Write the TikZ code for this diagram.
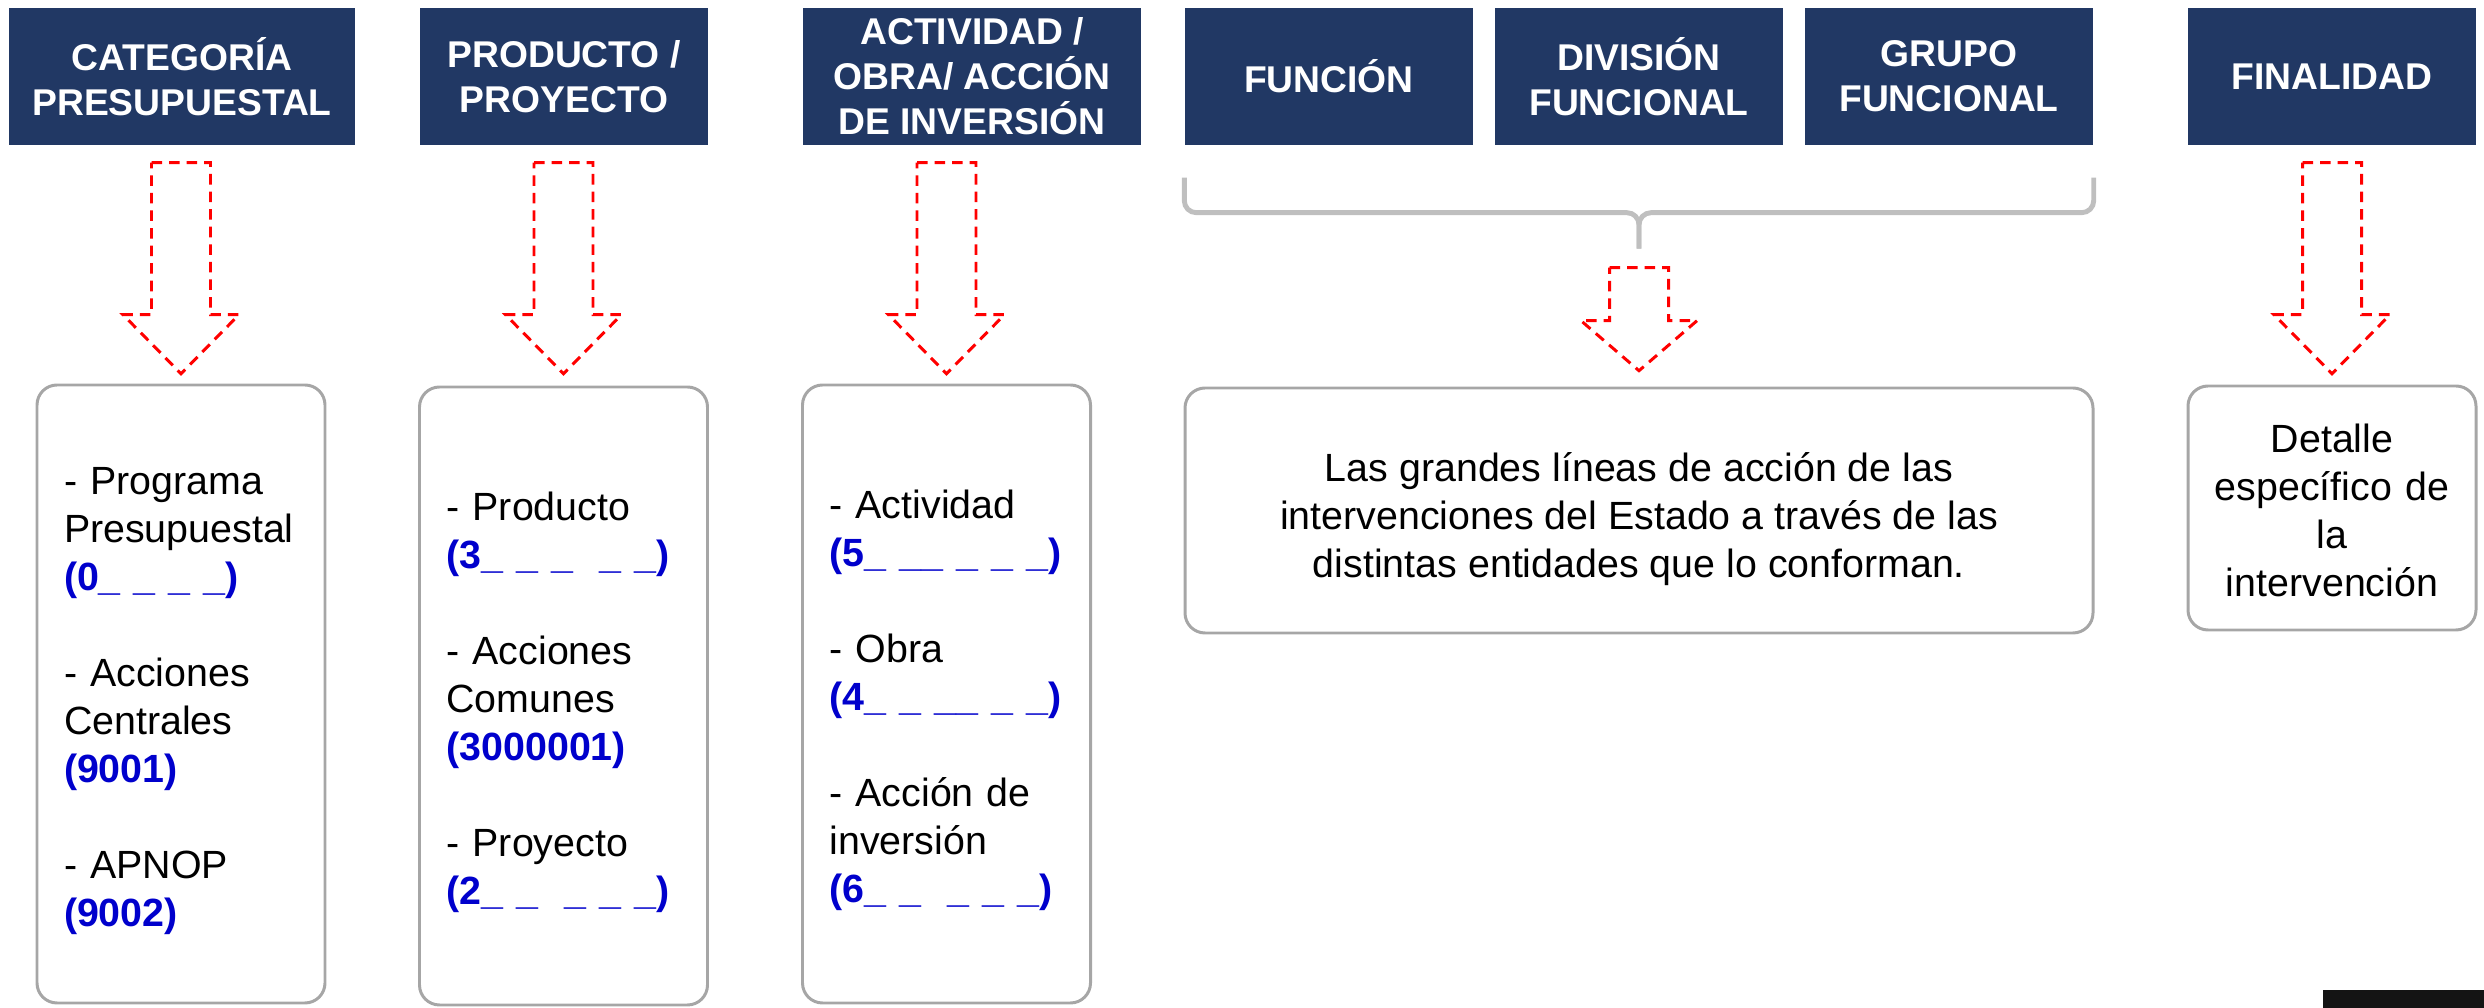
\documentclass[tikz,border=0pt]{standalone}
\usepackage{fontspec}
\setmainfont{Liberation Sans}
\usetikzlibrary{calc}

\definecolor{headnavy}{RGB}{33,56,100}
\definecolor{boxgray}{RGB}{166,166,166}
\definecolor{bracegray}{RGB}{191,191,191}
\definecolor{codeblue}{RGB}{0,0,204}

\hyphenpenalty=10000
\newcommand{\code}[1]{\textbf{\textcolor{codeblue}{#1}}}
\newcommand{\topgap}[1]{\rule{0pt}{#1}}

\tikzset{
	header/.style={fill=headnavy, text=white, font=\bfseries\fontsize{10.6}{12.8}\selectfont, align=center, minimum height=1.37cm, inner sep=0pt},
	listbox/.style={draw=boxgray, line width=0.85pt, rounded corners=0.2cm, minimum height=6.18cm, text width=2.34cm, inner xsep=0.27cm, align=left, font=\fontsize{11.2}{13.66}\selectfont},
	notebox/.style={draw=boxgray, line width=0.85pt, rounded corners=0.2cm, align=center, font=\fontsize{11.2}{13.66}\selectfont},
	redline/.style={draw=red, line width=0.85pt, dash pattern=on 3pt off 2pt},
	brace/.style={draw=bracegray, line width=1.4pt, rounded corners=0.12cm},
	pics/hollowarrow/.style 2 args={code={
		\draw[redline] (-0.295,0) -- (0.295,0) -- (0.295,-#1) -- (0.58,-#1) -- (0,-#2) -- (-0.58,-#1) -- (-0.295,-#1) -- cycle;
	}}
}

\begin{document}
\begin{tikzpicture}
	\useasboundingbox (0,0) rectangle (24.84,-10.08);

	% headers
	\node[header, minimum width=3.46cm] (h1) at (1.82,-0.765) {CATEGORÍA\\PRESUPUESTAL};
	\node[header, minimum width=2.88cm] (h2) at (5.64,-0.765) {PRODUCTO /\\PROYECTO};
	\node[header, minimum width=3.38cm] (h3) at (9.72,-0.765) {ACTIVIDAD /\\OBRA/ ACCIÓN\\DE INVERSIÓN};
	\node[header, minimum width=2.88cm] (h4) at (13.29,-0.765) {FUNCIÓN};
	\node[header, minimum width=2.88cm] (h5) at (16.39,-0.765) {DIVISIÓN\\FUNCIONAL};
	\node[header, minimum width=2.88cm] (h6) at (19.49,-0.765) {GRUPO\\FUNCIONAL};
	\node[header, minimum width=2.88cm] (h7) at (23.32,-0.765) {FINALIDAD};

	% boxes
	\node[listbox] (b1) at (1.81,-6.94) {\topgap{0.41cm}- Programa\\Presupuestal\\\code{(0\_ \_ \_ \_)}\\[13.66pt]- Acciones\\Centrales\\\code{(9001)}\\[13.66pt]- APNOP\\\code{(9002)}};
	\node[listbox] (b2) at (5.635,-6.96) {\topgap{0.41cm}- Producto\\\code{(3\_ \_ \_\ \ \_ \_)}\\[13.66pt]- Acciones\\Comunes\\\code{(3000001)}\\[13.66pt]- Proyecto\\\code{(2\_ \_\ \ \_ \_ \_)}};
	\node[listbox] (b3) at (9.465,-6.94) {\topgap{0.41cm}- Actividad\\\code{(5\_ \_\_ \_ \_ \_)}\\[13.66pt]- Obra\\\code{(4\_ \_ \_\_ \_ \_)}\\[13.66pt]- Acción de\\inversión\\\code{(6\_ \_\ \ \_ \_ \_)}};
	\node[notebox, minimum width=9.08cm, minimum height=2.45cm] (bf) at (16.39,-5.105) {\topgap{0.47cm}Las grandes líneas de acción de las\\intervenciones del Estado a través de las\\distintas entidades que lo conforman.};
	\node[notebox, text width=2.6cm, inner xsep=0.14cm, minimum height=2.44cm] (b7) at (23.32,-5.08) {\topgap{0.33cm}Detalle\\específico de\\la\\intervención};

	% brace under the three functional headers
	\coordinate (bl) at ($(h4.south west)+(0,-0.32)$);
	\coordinate (br) at ($(h6.south east)+(0,-0.32)$);
	\coordinate (bt) at ($(bl)!0.5!(br)+(0,-0.71)$);
	\draw[brace] (bl) -- ++(0,-0.35) -| (bt);
	\draw[brace] (br) -- ++(0,-0.35) -| (bt);

	% dashed arrows
	\pic at ($(b1.north |- h1.south)+(0,-0.17)$) {hollowarrow={1.52}{2.11}};
	\pic at ($(b2.north |- h2.south)+(0,-0.17)$) {hollowarrow={1.52}{2.11}};
	\pic at ($(b3.north |- h3.south)+(0,-0.17)$) {hollowarrow={1.52}{2.11}};
	\pic at ($(b7.north |- h7.south)+(0,-0.17)$) {hollowarrow={1.52}{2.11}};
	\pic at ($(bt)+(0,-0.19)$) {hollowarrow={0.53}{1.03}};

	\fill[black!92] (23.23,-9.90) rectangle (24.84,-10.08);
\end{tikzpicture}
\end{document}
